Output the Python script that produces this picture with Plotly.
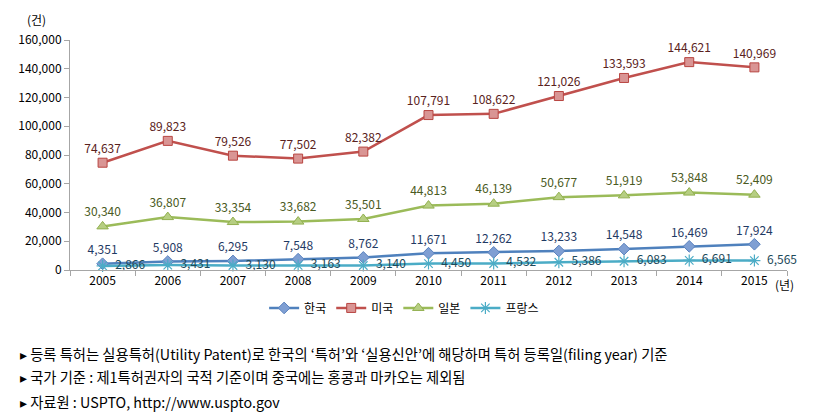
import plotly.graph_objects as go

years = ["2005", "2006", "2007", "2008", "2009", "2010", "2011", "2012", "2013", "2014", "2015"]
korea = [4351, 5908, 6295, 7548, 8762, 11671, 12262, 13233, 14548, 16469, 17924]
usa = [74637, 89823, 79526, 77502, 82382, 107791, 108622, 121026, 133593, 144621, 140969]
japan = [30340, 36807, 33354, 33682, 35501, 44813, 46139, 50677, 51919, 53848, 52409]
france = [2866, 3431, 3130, 3163, 3140, 4450, 4532, 5386, 6083, 6691, 6565]
names = ["한국", "미국", "일본", "프랑스"]
notes = [
    "▸ 등록 특허는 실용특허(Utility Patent)로 한국의 ‘특허’와 ‘실용신안’에 해당하며 특허 등록일(filing year) 기준",
    "▸ 국가 기준 : 제1특허권자의 국적 기준이며 중국에는 홍콩과 마카오는 제외됨",
    "▸ 자료원 : USPTO, http://www.uspto.gov",
]

FONT = "Noto Sans CJK KR, Dotum, sans-serif"

def fmt(v):
    return [f"{x:,}" for x in v]

fig = go.Figure()
fig.add_trace(go.Scatter(
    x=years, y=korea, name=names[0], mode="lines+markers+text",
    line=dict(color="#4F81BD", width=2.5),
    marker=dict(symbol="diamond", size=9, color="#7F9FD3", line=dict(color="#5A82BE", width=1)),
    text=fmt(korea), textposition="top center", cliponaxis=False,
    textfont=dict(family=FONT, size=12, color="#1F3A64"),
))
fig.add_trace(go.Scatter(
    x=years, y=usa, name=names[1], mode="lines+markers+text",
    line=dict(color="#C0504D", width=2.5),
    marker=dict(symbol="square", size=9, color="#D99594", line=dict(color="#B84541", width=1)),
    text=fmt(usa), textposition="top center", cliponaxis=False,
    textfont=dict(family=FONT, size=12, color="#5A2220"),
))
fig.add_trace(go.Scatter(
    x=years, y=japan, name=names[2], mode="lines+markers+text",
    line=dict(color="#9BBB59", width=2.5),
    marker=dict(symbol="triangle-up", size=10, color="#B6CE82", line=dict(color="#92B04F", width=1)),
    text=fmt(japan), textposition="top center", cliponaxis=False,
    textfont=dict(family=FONT, size=12, color="#4A5A22"),
))
fig.add_trace(go.Scatter(
    x=years, y=france, name=names[3], mode="lines+markers+text",
    line=dict(color="#4BACC6", width=2.5),
    marker=dict(symbol="asterisk-open", size=10, color="#4BACC6", line=dict(color="#4BACC6", width=1.2)),
    text=["  " + t for t in fmt(france)], textposition="middle right", cliponaxis=False,
    textfont=dict(family=FONT, size=12, color="#1E4A5A"),
))

note_y = [-0.365, -0.465, -0.57]
annotations = [
    dict(text="(건)", xref="paper", yref="paper", x=-0.047, y=1.087, showarrow=False,
         xanchor="center", yanchor="middle", font=dict(family=FONT, size=12)),
    dict(text="(년)", xref="paper", yref="paper", x=0.98, y=-0.065, showarrow=False,
         xanchor="left", yanchor="middle", font=dict(family=FONT, size=12)),
]
for t, yy in zip(notes, note_y):
    annotations.append(dict(text=t, xref="paper", yref="paper", x=-0.073, y=yy, showarrow=False,
                            xanchor="left", yanchor="middle", font=dict(family=FONT, size=14.3)))

fig.update_layout(
    width=832, height=420,
    margin=dict(l=70, r=45, t=40, b=150),
    paper_bgcolor="white", plot_bgcolor="white",
    font=dict(family=FONT, size=12, color="#000000"),
    showlegend=True,
    legend=dict(orientation="h", x=0.466, xanchor="center", y=-0.165, yanchor="middle",
                font=dict(family=FONT, size=12), itemwidth=30, tracegroupgap=0),
    xaxis=dict(type="category", range=[-0.5, 10.5], showgrid=False, showline=True,
               linecolor="#A6A6A6", linewidth=1, ticks="outside", tickson="boundaries",
               ticklen=5, tickcolor="#A6A6A6", tickfont=dict(family=FONT, size=12)),
    yaxis=dict(range=[0, 160000], dtick=20000, tickformat=",", showgrid=False, showline=True,
               linecolor="#A6A6A6", linewidth=1, ticks="outside", ticklen=5,
               tickcolor="#A6A6A6", tickfont=dict(family=FONT, size=12), zeroline=False),
    annotations=annotations,
)

fig.write_html("out.html", config={"displayModeBar": False},
               post_script="document.body.style.margin='0';")
